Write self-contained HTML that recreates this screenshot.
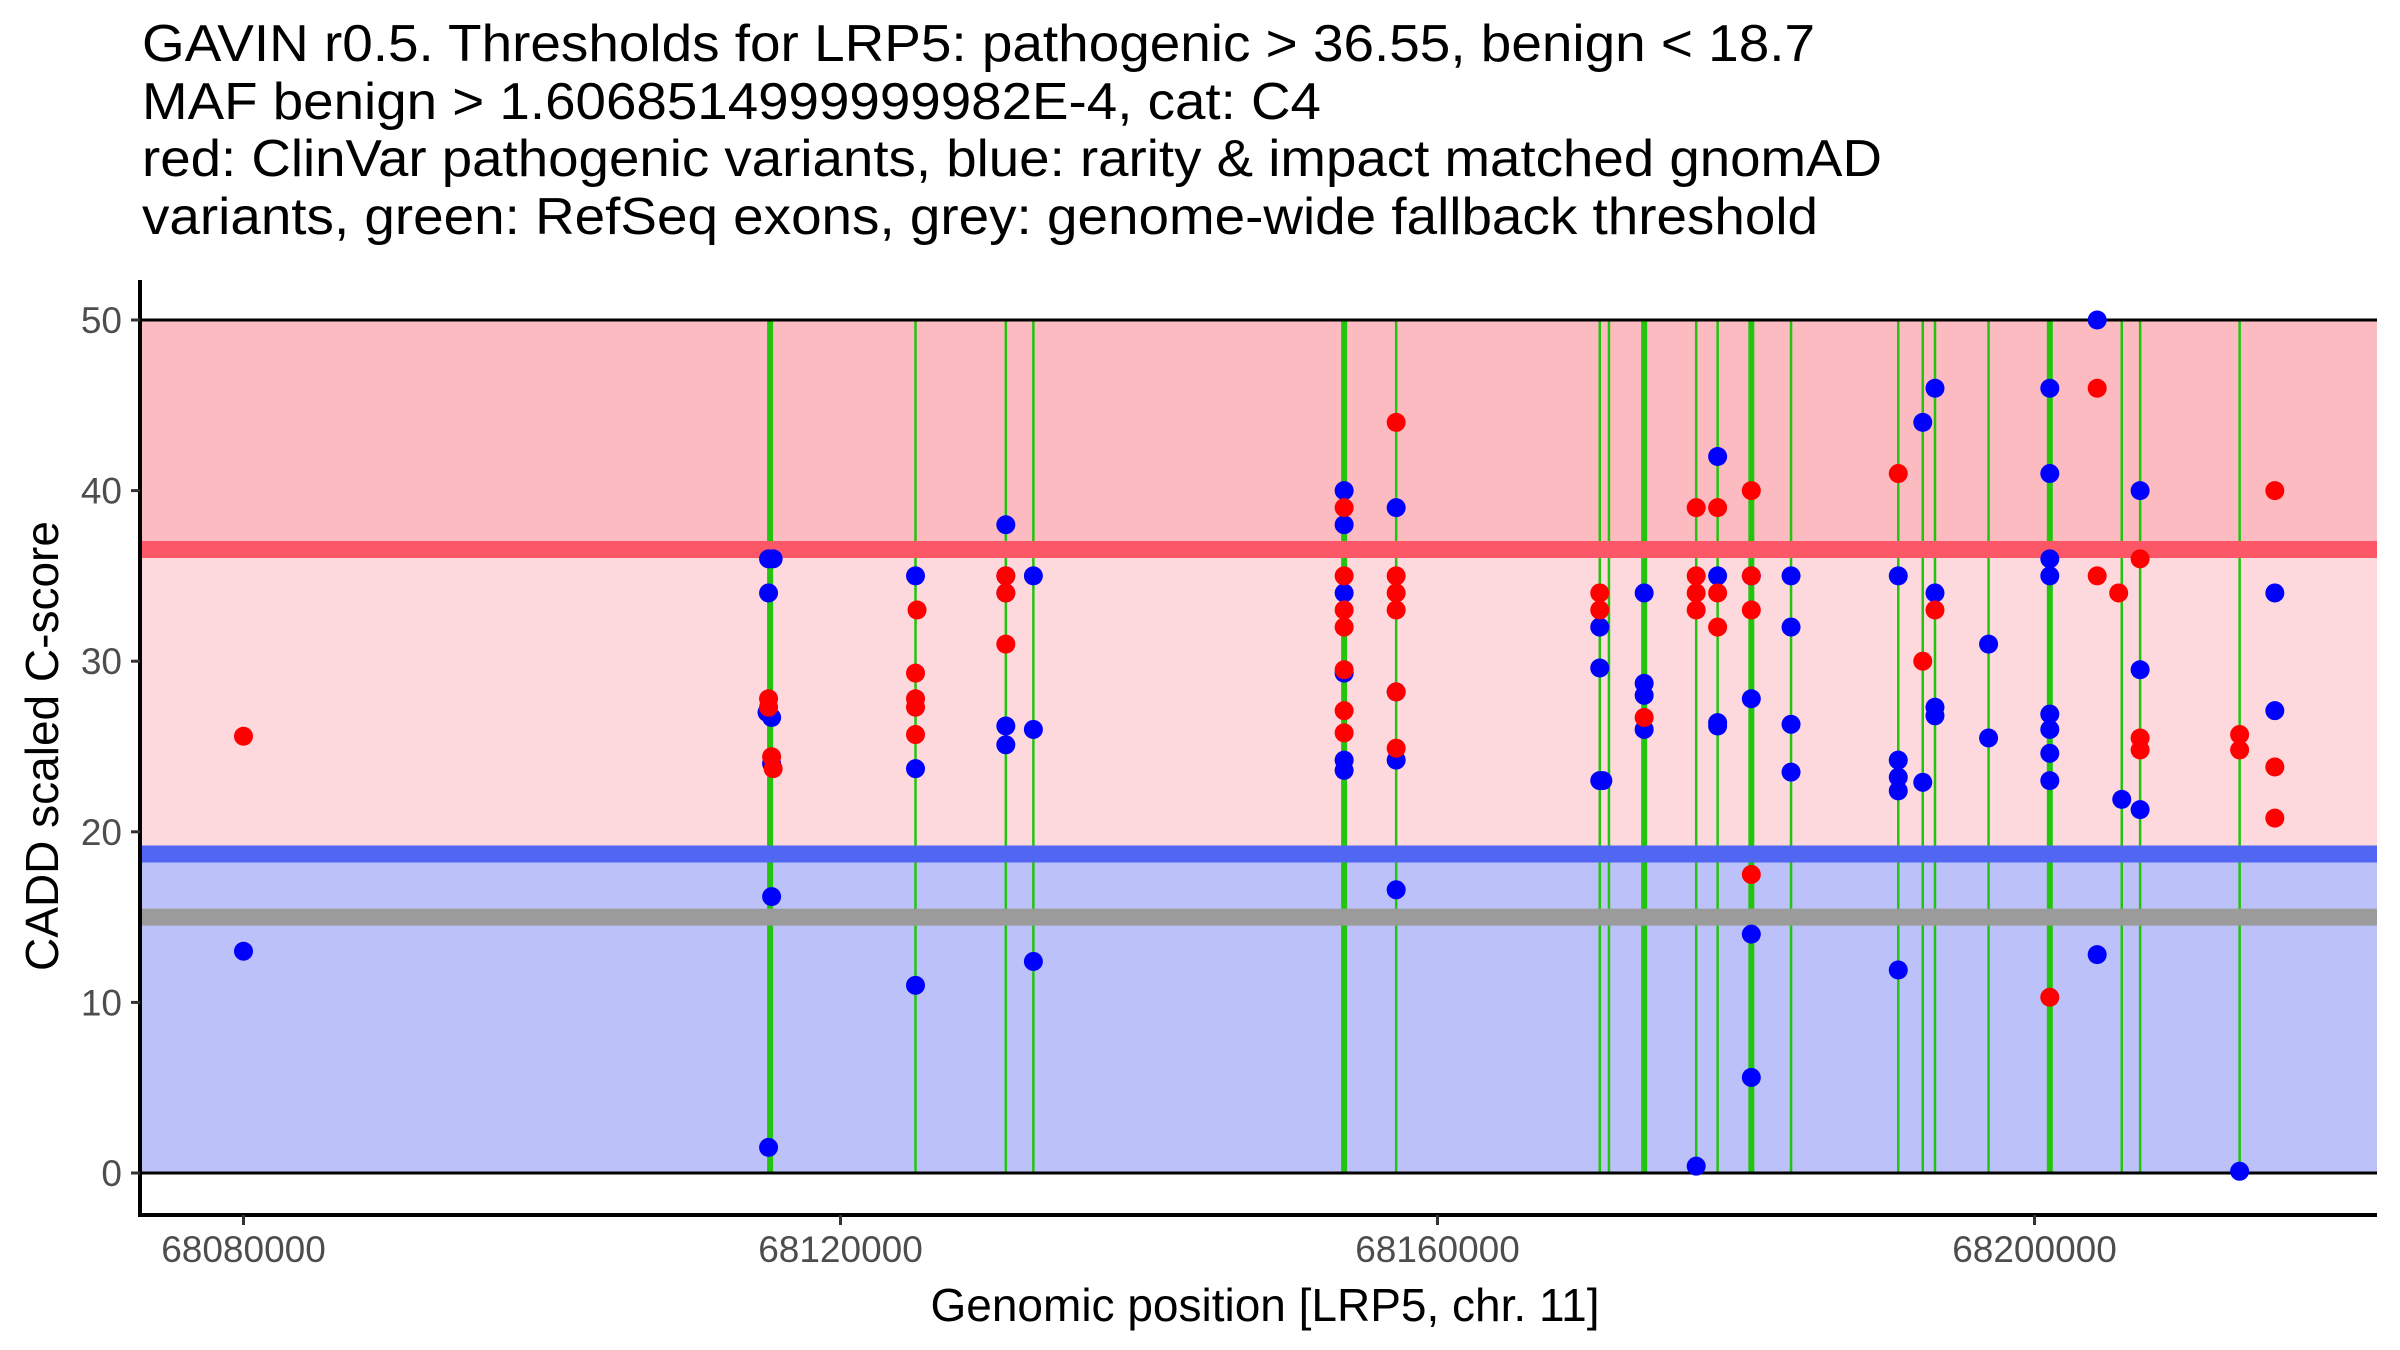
<!DOCTYPE html>
<html><head><meta charset="utf-8"><title>GAVIN LRP5</title>
<style>html,body{margin:0;padding:0;background:#fff;}svg{display:block;font-family:"Liberation Sans",Arial,sans-serif;}</style>
</head><body>
<svg id="chart" width="2400" height="1350" viewBox="0 0 2400 1350" xmlns="http://www.w3.org/2000/svg">
<g font-size="52" fill="#000">
<text x="142" y="61" textLength="1673" lengthAdjust="spacingAndGlyphs">GAVIN r0.5. Thresholds for LRP5: pathogenic &gt; 36.55, benign &lt; 18.7</text>
<text x="142" y="119" textLength="1179" lengthAdjust="spacingAndGlyphs">MAF benign &gt; 1.6068514999999982E-4, cat: C4</text>
<text x="142" y="176" textLength="1740" lengthAdjust="spacingAndGlyphs">red: ClinVar pathogenic variants, blue: rarity &amp; impact matched gnomAD</text>
<text x="142" y="234" textLength="1676" lengthAdjust="spacingAndGlyphs">variants, green: RefSeq exons, grey: genome-wide fallback threshold</text>
</g>
<g id="bands"></g>
<g id="exons"></g>
<g id="hlines"></g>
<g id="points"></g>
<g id="axes" fill="#4d4d4d" font-size="37"></g>
<text x="1265" y="1321" font-size="46" text-anchor="middle" fill="#000">Genomic position [LRP5, chr. 11]</text>
<text transform="translate(58,746) rotate(-90)" font-size="46" text-anchor="middle" fill="#000">CADD scaled C-score</text>
</svg>
<script>
const pathogenicThreshold = 36.55;
const benignThreshold = 18.7;
const fallbackThreshold = 15;
const yTicks = [0, 10, 20, 30, 40, 50];
const xTicks = [68080000, 68120000, 68160000, 68200000];
const exonPos = [68115282, 68125026, 68131077, 68132923, 68153744, 68157231, 68170872, 68171487, 68173846, 68177333, 68178769, 68181026, 68183688, 68190872, 68192513, 68193333, 68196923, 68201026, 68205846, 68207077, 68213744];
const exonThick = [1,0,0,0,1,0,0,0,1,0,0,1,0,0,0,0,0,1,0,0,0];
const redPos = [68080000,68115180,68115180,68115385,68115487,68125128,68125026,68125026,68125026,68125026,68131077,68131077,68131077,68153744,68153744,68153744,68153744,68153744,68153744,68153744,68157231,68157231,68157231,68157231,68157231,68157231,68170872,68170872,68173846,68177333,68177333,68177333,68177333,68178769,68178769,68178769,68181026,68181026,68181026,68181026,68190872,68192513,68193333,68201026,68204200,68204200,68205641,68207077,68207077,68207077,68213744,68213744,68216103,68216103,68216103];
const redScore = [25.6,27.8,27.3,24.4,23.7,33,29.3,27.8,27.3,25.7,35,34,31,39,35,33,32,29.5,27.1,25.8,44,35,34,33,28.2,24.9,34,33,26.7,39,35,34,33,39,34,32,40,35,33,17.5,41,30,33,10.3,46,35,34,36,25.5,24.8,25.7,24.8,40,23.8,20.8];
const bluePos = [68080000,68115180,68115487,68115180,68115076,68115385,68115385,68115385,68115180,68125026,68125026,68125026,68131077,68131077,68131077,68131077,68131077,68132923,68132923,68132923,68153744,68153744,68153744,68153744,68153744,68153744,68157231,68157231,68157231,68157231,68170872,68170872,68170872,68171077,68173846,68173846,68173846,68173846,68177333,68178769,68178769,68178769,68178769,68181026,68181026,68181026,68181026,68183688,68183688,68183688,68183688,68190872,68190872,68190872,68190872,68190872,68192513,68192513,68193333,68193333,68193333,68193333,68196923,68196923,68201026,68201026,68201026,68201026,68201026,68201026,68201026,68201026,68204200,68204200,68205846,68207077,68207077,68207077,68213744,68216103,68216103];
const blueScore = [13,36,36,34,27,26.7,24,16.2,1.5,35,23.7,11,38,35,34,26.2,25.1,35,26,12.4,40,38,34,29.3,24.2,23.6,39,28.2,24.2,16.6,32,29.6,23,23,34,28.7,28,26,0.4,42,35,26.4,26.2,35,27.8,14,5.6,35,32,26.3,23.5,35,24.2,23.2,22.4,11.9,44,22.9,46,34,27.3,26.8,31,25.5,46,41,36,35,26.9,26,24.6,23,50,12.8,21.9,40,29.5,21.3,0.1,34,27.1];

const NS='http://www.w3.org/2000/svg';
const L=140,R=2377,AXB=1215,AXT=280;
const xs=v=>243.5+(v-68080000)*597/40000;
const ys=v=>1173-v*(1173-320)/50;
function mk(tag,attrs,parent){const e=document.createElementNS(NS,tag);for(const k in attrs)e.setAttribute(k,attrs[k]);parent.appendChild(e);return e;}
const bands=document.getElementById('bands');
let e;
e=mk('rect',{x:L,y:ys(50),width:R-L,height:ys(pathogenicThreshold)-ys(50),fill:'#fcbbc0'},bands);


e=mk('rect',{x:L,y:ys(pathogenicThreshold),width:R-L,height:ys(benignThreshold)-ys(pathogenicThreshold),fill:'#fdd8dc'},bands);


e=mk('rect',{x:L,y:ys(benignThreshold),width:R-L,height:ys(0)-ys(benignThreshold),fill:'#bcc2f9'},bands);


const ex=document.getElementById('exons');
exonPos.forEach((p,i)=>{const l=mk('line',{x1:xs(p),x2:xs(p),y1:ys(50),y2:ys(0),stroke:'#22c40e','stroke-width':exonThick[i]?6:2.5},ex);

});
const hl=document.getElementById('hlines');
e=mk('line',{x1:L,x2:R,y1:ys(pathogenicThreshold),y2:ys(pathogenicThreshold),stroke:'#fb5767','stroke-width':17},hl);


e=mk('line',{x1:L,x2:R,y1:ys(benignThreshold),y2:ys(benignThreshold),stroke:'#5266f4','stroke-width':17},hl);


e=mk('line',{x1:L,x2:R,y1:ys(fallbackThreshold),y2:ys(fallbackThreshold),stroke:'#9b9b9b','stroke-width':17},hl);


[50,0].forEach(v=>{const b=mk('line',{x1:L,x2:R,y1:ys(v),y2:ys(v),stroke:'#000','stroke-width':3},hl);

});
const pts=document.getElementById('points');
bluePos.forEach((p,i)=>{const c=mk('circle',{cx:xs(p),cy:ys(blueScore[i]),r:9.5,fill:'#0000ff'},pts);

});
redPos.forEach((p,i)=>{const c=mk('circle',{cx:xs(p),cy:ys(redScore[i]),r:9.5,fill:'#ff0000'},pts);

});
const ax=document.getElementById('axes');
e=mk('line',{x1:L,x2:L,y1:AXT,y2:AXB+1.5,stroke:'#000','stroke-width':4},ax);


e=mk('line',{x1:L-2,x2:R,y1:AXB,y2:AXB,stroke:'#000','stroke-width':4},ax);


yTicks.forEach(v=>{const t=mk('line',{x1:L-9,x2:L,y1:ys(v),y2:ys(v),stroke:'#333','stroke-width':3},ax);


const tx=mk('text',{x:L-18,y:ys(v)+13,'text-anchor':'end'},ax);tx.textContent=v;

});
xTicks.forEach(v=>{const t=mk('line',{x1:xs(v),x2:xs(v),y1:AXB,y2:AXB+10,stroke:'#333','stroke-width':3},ax);


const tx=mk('text',{x:xs(v),y:1262,'text-anchor':'middle'},ax);tx.textContent=v;

});
</script>
</body></html>
